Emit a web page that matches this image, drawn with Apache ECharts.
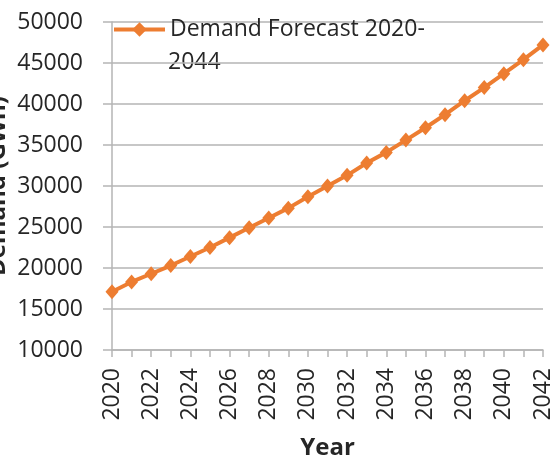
<!DOCTYPE html>
<html>
<head>
<meta charset="utf-8">
<script src="https://cdn.jsdelivr.net/npm/echarts@6/dist/echarts.min.js"></script>
<style>
  html, body { margin: 0; padding: 0; background: #ffffff; }
  #container { width: 558px; height: 457px; }
</style>
</head>
<body>
<div id="container"></div>
<script>
// years on the x axis
var years = [];
for (var y = 2020; y <= 2042; y++) years.push(String(y));

// demand forecast (GWh)
var demand = [17100, 18300, 19300, 20300, 21400, 22500, 23700, 24900, 26100, 27300, 28700, 30000,
  31300, 32800, 34100, 35600, 37100, 38700, 40400, 42000, 43700, 45400, 47200];

var seriesName = "Demand Forecast 2020-";
var seriesName2 = "2044";

var fontName = "Open Sans";
var textColor = "#262626";
var gridColor = "#b5b5b5";
var orange = "#ED7D31";

var myChart = echarts.init(document.getElementById("container"), null, { renderer: "canvas" });

myChart.setOption({
  animation: false,
  backgroundColor: "#ffffff",
  grid: {
    left: 112,
    right: 15,
    top: 22,
    bottom: 107,
    containLabel: false,
    outerBoundsMode: "none",
  },
  legend: {
    left: 112,
    top: 18,
    padding: 0,
    itemWidth: 51,
    itemHeight: 18,
    itemGap: 5,
    lineStyle: { width: 4, color: orange },
    itemStyle: { color: orange },
    textStyle: {
      fontFamily: fontName,
      fontSize: 23,
      color: textColor,
    },
    data: [seriesName],
  },
  // second line of the legend label
  graphic: [
    {
      type: "text",
      left: 168,
      top: 51,
      style: {
        text: seriesName2,
        fontFamily: fontName,
        fontSize: 23,
        fill: textColor,
      },
    },
  ],
  xAxis: {
    type: "category",
    boundaryGap: false,
    data: years,
    name: "Year",
    nameLocation: "middle",
    nameGap: 86,
    nameTextStyle: {
      fontFamily: fontName,
      fontSize: 24,
      fontWeight: "bold",
      color: textColor,
    },
    axisLine: { show: true, lineStyle: { color: gridColor, width: 1.5 } },
    axisTick: {
      show: true,
      interval: 0,
      length: 7,
      alignWithLabel: true,
      lineStyle: { color: gridColor, width: 1.5 },
    },
    axisLabel: {
      interval: 1,
      rotate: 90,
      margin: 18,
      fontFamily: fontName,
      fontSize: 23,
      color: textColor,
    },
    splitLine: { show: false },
  },
  yAxis: {
    type: "value",
    min: 10000,
    max: 50000,
    interval: 5000,
    name: "Demand (GWh)",
    nameLocation: "middle",
    nameGap: 102,
    nameMoveOverlap: false,
    nameTextStyle: {
      fontFamily: fontName,
      fontSize: 24,
      fontWeight: "bold",
      color: textColor,
    },
    axisLine: { show: true, lineStyle: { color: gridColor, width: 1.5 } },
    axisTick: { show: true, length: 9, lineStyle: { color: gridColor, width: 1.5 } },
    axisLabel: {
      margin: 29,
      fontFamily: fontName,
      fontSize: 23,
      color: textColor,
      formatter: function (v) { return String(v); },
    },
    splitLine: { show: true, lineStyle: { color: gridColor, width: 1.5 } },
  },
  series: [
    {
      name: seriesName,
      type: "line",
      data: demand,
      symbol: "diamond",
      symbolSize: [13, 15],
      showAllSymbol: true,
      itemStyle: { color: orange },
      lineStyle: { color: orange, width: 4 },
      emphasis: { disabled: true },
    },
  ],
});
</script>
</body>
</html>
